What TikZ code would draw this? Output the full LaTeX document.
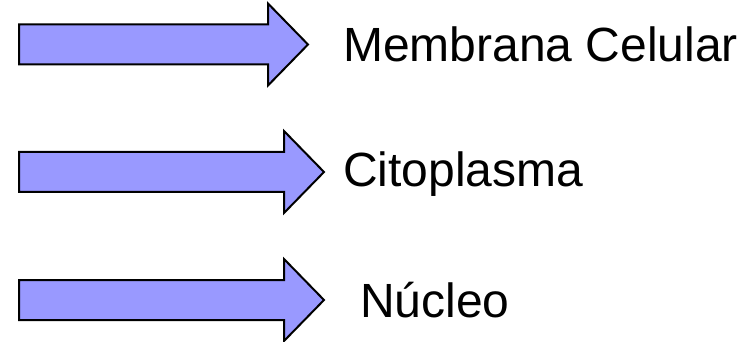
\documentclass[tikz,border=0pt]{standalone}
\usepackage{fontspec}
\setmainfont{Liberation Sans}
\usetikzlibrary{positioning, calc}
\definecolor{arrowblue}{HTML}{9999FF}
\tikzset{blockarrow/.style={fill=arrowblue, draw=black, line width=2pt, line join=miter}}
\tikzset{label/.style={anchor=base west, inner sep=0pt, font=\fontsize{48}{56}\selectfont}}

% block arrow: name, y of centre line, x of head base
\newcommand{\flecha}[3]{%
  \coordinate (#1-tail) at (19,#2);
  \coordinate (#1-tip) at ($(#3,#2)+(40,0)$);
  \draw[blockarrow] (19,#2-20) -- (#3,#2-20) -- (#3,#2-41) -- (#1-tip)
    -- (#3,#2+41) -- (#3,#2+20) -- (19,#2+20) -- cycle;
}

\begin{document}
\begin{tikzpicture}[x=1pt, y=-1pt]
      \useasboundingbox (0,0) rectangle (753,342);

      \flecha{a1}{44.5}{268}
      \flecha{a2}{172}{284}
      \flecha{a3}{300}{284}

      \node[label] (membrana) at ($(a1-tip)+(35,17.5)$) {Membrana Celular};
      \node[label] (citoplasma) at ($(a2-tip)+(19,15)$) {Citoplasma};
      \node[label] (nucleo) at ($(a3-tip)+(36,17)$) {Núcleo};
    \end{tikzpicture}
\end{document}
